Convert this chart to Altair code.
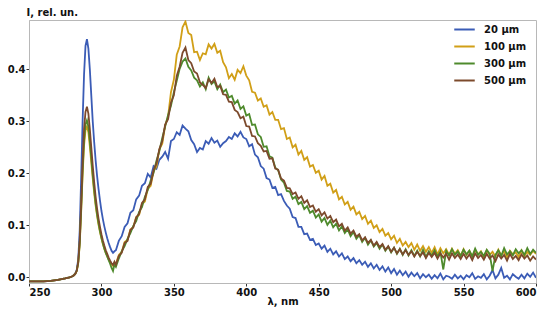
import altair as alt
import pandas as pd

# Sampling wavelengths (nm): fine around the narrow 290 nm band, then every 2 nm
WL_A = [250, 255, 260, 265, 270, 275, 278, 280, 281, 282, 283, 284, 285, 286, 287, 288, 289,
        290, 291, 292, 293, 294, 295, 296, 297, 298, 299, 300, 301, 302, 303, 304, 305, 306,
        307, 308, 309]
WL_B = list(range(310, 601, 2))
WAVELENGTH = WL_A + WL_B

SERIES = ["20 μm", "100 μm", "300 μm", "500 μm"]
COLORS = ["#3b5cb6", "#d19f17", "#4e8a2c", "#7c4a2c"]

# ---- 20 um (blue)
I20_A = [-0.008, -0.008, -0.008, -0.007, -0.005, -0.002, 0.000, 0.002, 0.004, 0.007, 0.015,
         0.035, 0.09, 0.19, 0.30, 0.39, 0.445, 0.458, 0.44, 0.40, 0.35, 0.30, 0.26, 0.225,
         0.195, 0.17, 0.148, 0.128, 0.112, 0.098, 0.086, 0.075, 0.066, 0.058, 0.051, 0.047, 0.05]
I20_B = [0.052, 0.070, 0.079, 0.097, 0.104, 0.124, 0.129, 0.150, 0.157, 0.176,
         0.181, 0.199, 0.192, 0.214, 0.209, 0.226, 0.232, 0.241, 0.228, 0.262,
         0.266, 0.279, 0.274, 0.292, 0.286, 0.281, 0.264, 0.256, 0.241, 0.249,
         0.246, 0.262, 0.257, 0.268, 0.259, 0.263, 0.251, 0.258, 0.262, 0.270,
         0.266, 0.277, 0.271, 0.280, 0.269, 0.266, 0.252, 0.256, 0.236, 0.231,
         0.214, 0.209, 0.191, 0.188, 0.172, 0.174, 0.158, 0.160, 0.147, 0.138,
         0.132, 0.116, 0.114, 0.097, 0.097, 0.083, 0.084, 0.072, 0.074, 0.062,
         0.065, 0.055, 0.061, 0.049, 0.055, 0.044, 0.050, 0.040, 0.046, 0.035,
         0.040, 0.031, 0.037, 0.027, 0.033, 0.024, 0.030, 0.020, 0.027, 0.017,
         0.024, 0.014, 0.021, 0.011, 0.019, 0.008, 0.016, 0.005, 0.013, 0.004,
         0.011, 0.001, 0.009, 0.002, 0.008, -0.002, 0.006, 0.000, 0.005, -0.003,
         0.004, -0.002, 0.007, -0.004, 0.003, 0.001, -0.003, 0.005, -0.002, 0.003,
         -0.004, 0.004, 0.000, 0.008, -0.003, 0.002, -0.001, 0.006, -0.004, 0.003,
         0.014, -0.002, 0.005, 0.018, -0.001, 0.003, -0.004, 0.006, 0.001, -0.003,
         0.005, -0.002, 0.007, 0.001, 0.009, -0.001]

# ---- 100 um (gold)
I100_A = [-0.008, -0.008, -0.008, -0.007, -0.005, -0.002, 0.000, 0.002, 0.004, 0.007, 0.012,
          0.027, 0.062, 0.125, 0.197, 0.253, 0.283, 0.29, 0.279, 0.252, 0.221, 0.19, 0.162,
          0.138, 0.118, 0.101, 0.087, 0.075, 0.064, 0.055, 0.047, 0.04, 0.034, 0.029, 0.025,
          0.022, 0.028]
I100_B = [0.026, 0.043, 0.049, 0.068, 0.072, 0.092, 0.097, 0.116, 0.120, 0.141,
          0.146, 0.170, 0.176, 0.204, 0.213, 0.246, 0.257, 0.292, 0.309, 0.356,
          0.380, 0.428, 0.444, 0.481, 0.492, 0.470, 0.466, 0.433, 0.434, 0.418,
          0.431, 0.429, 0.448, 0.440, 0.449, 0.432, 0.436, 0.414, 0.404, 0.383,
          0.391, 0.380, 0.399, 0.393, 0.406, 0.388, 0.379, 0.357, 0.355, 0.340,
          0.344, 0.328, 0.331, 0.313, 0.318, 0.303, 0.303, 0.285, 0.287, 0.266,
          0.269, 0.250, 0.255, 0.236, 0.243, 0.226, 0.231, 0.213, 0.216, 0.201,
          0.205, 0.188, 0.195, 0.176, 0.180, 0.163, 0.168, 0.150, 0.155, 0.140,
          0.145, 0.130, 0.136, 0.121, 0.126, 0.112, 0.118, 0.103, 0.109, 0.095,
          0.100, 0.087, 0.093, 0.080, 0.085, 0.073, 0.080, 0.066, 0.074, 0.061,
          0.068, 0.058, 0.066, 0.053, 0.063, 0.051, 0.060, 0.049, 0.058, 0.047,
          0.058, 0.044, 0.056, 0.046, 0.054, 0.043, 0.055, 0.045, 0.052, 0.041,
          0.054, 0.043, 0.051, 0.040, 0.053, 0.044, 0.050, 0.039, 0.052, 0.043,
          0.049, 0.040, 0.053, 0.042, 0.050, 0.038, 0.051, 0.044, 0.048, 0.039,
          0.052, 0.041, 0.049, 0.043, 0.051, 0.045]

# ---- 300 um (green)
I300_A = [-0.008, -0.008, -0.008, -0.007, -0.005, -0.002, 0.000, 0.002, 0.004, 0.007, 0.013,
          0.028, 0.065, 0.13, 0.205, 0.263, 0.294, 0.302, 0.29, 0.262, 0.23, 0.197, 0.168,
          0.142, 0.121, 0.104, 0.089, 0.076, 0.065, 0.055, 0.047, 0.04, 0.033, 0.026, 0.018,
          0.012, 0.025]
I300_B = [0.020, 0.036, 0.050, 0.060, 0.074, 0.085, 0.099, 0.108, 0.126, 0.135,
          0.155, 0.168, 0.186, 0.201, 0.224, 0.243, 0.268, 0.290, 0.312, 0.330,
          0.356, 0.378, 0.401, 0.415, 0.421, 0.405, 0.398, 0.384, 0.379, 0.367,
          0.375, 0.362, 0.384, 0.372, 0.377, 0.362, 0.371, 0.356, 0.361, 0.346,
          0.349, 0.334, 0.340, 0.324, 0.329, 0.311, 0.314, 0.293, 0.294, 0.275,
          0.270, 0.251, 0.252, 0.233, 0.230, 0.211, 0.206, 0.188, 0.182, 0.166,
          0.165, 0.151, 0.155, 0.141, 0.145, 0.131, 0.137, 0.124, 0.128, 0.115,
          0.121, 0.107, 0.114, 0.101, 0.109, 0.096, 0.103, 0.090, 0.098, 0.085,
          0.092, 0.079, 0.087, 0.074, 0.081, 0.068, 0.076, 0.063, 0.071, 0.059,
          0.066, 0.055, 0.063, 0.051, 0.059, 0.048, 0.057, 0.045, 0.055, 0.043,
          0.054, 0.042, 0.052, 0.041, 0.051, 0.040, 0.053, 0.039, 0.050, 0.041,
          0.052, 0.040, 0.049, 0.015, 0.051, 0.042, 0.054, 0.043, 0.050, 0.041,
          0.053, 0.044, 0.051, 0.040, 0.055, 0.043, 0.049, 0.041, 0.053, 0.045,
          0.012, 0.043, 0.052, 0.041, 0.056, 0.044, 0.050, 0.042, 0.054, 0.046,
          0.052, 0.043, 0.056, 0.045, 0.053, 0.047]

# ---- 500 um (brown)
I500_A = [-0.008, -0.008, -0.008, -0.007, -0.005, -0.002, 0.000, 0.002, 0.004, 0.007, 0.013,
          0.03, 0.07, 0.14, 0.22, 0.285, 0.318, 0.328, 0.315, 0.285, 0.25, 0.215, 0.183,
          0.155, 0.132, 0.113, 0.097, 0.083, 0.071, 0.061, 0.052, 0.045, 0.038, 0.032, 0.027,
          0.024, 0.03]
I500_B = [0.024, 0.041, 0.047, 0.066, 0.070, 0.091, 0.096, 0.115, 0.122, 0.143,
          0.150, 0.174, 0.180, 0.206, 0.219, 0.247, 0.262, 0.294, 0.304, 0.336,
          0.350, 0.388, 0.405, 0.432, 0.442, 0.418, 0.412, 0.396, 0.392, 0.375,
          0.370, 0.364, 0.381, 0.374, 0.382, 0.366, 0.368, 0.352, 0.351, 0.338,
          0.337, 0.322, 0.318, 0.306, 0.309, 0.291, 0.290, 0.272, 0.271, 0.258,
          0.253, 0.242, 0.243, 0.228, 0.229, 0.209, 0.207, 0.190, 0.186, 0.172,
          0.171, 0.160, 0.163, 0.151, 0.156, 0.143, 0.148, 0.135, 0.138, 0.126,
          0.131, 0.119, 0.125, 0.113, 0.118, 0.106, 0.111, 0.098, 0.103, 0.090,
          0.096, 0.084, 0.090, 0.078, 0.083, 0.071, 0.077, 0.066, 0.072, 0.061,
          0.068, 0.058, 0.064, 0.053, 0.060, 0.049, 0.057, 0.046, 0.054, 0.044,
          0.052, 0.043, 0.050, 0.040, 0.049, 0.041, 0.048, 0.037, 0.047, 0.039,
          0.047, 0.036, 0.046, 0.038, 0.045, 0.034, 0.046, 0.037, 0.044, 0.035,
          0.045, 0.036, 0.044, 0.033, 0.046, 0.037, 0.043, 0.034, 0.045, 0.036,
          0.042, 0.031, 0.044, 0.036, 0.043, 0.032, 0.045, 0.035, 0.041, 0.033,
          0.044, 0.036, 0.042, 0.032, 0.040, 0.034]

X_TICKS = [250, 300, 350, 400, 450, 500, 550, 600]
Y_TICKS = [0.0, 0.1, 0.2, 0.3, 0.4]

values = [I20_A + I20_B, I100_A + I100_B, I300_A + I300_B, I500_A + I500_B]
rows = []
for order, (name, vals) in enumerate(zip(SERIES, values)):
    n = min(len(vals), len(WAVELENGTH))
    for i in range(n):
        rows.append({"wl": WAVELENGTH[i], "I": vals[i], "series": name, "k": order})
df = pd.DataFrame(rows)

FONT = "DejaVu Sans"

chart = alt.Chart(df).mark_line(strokeWidth=1.8, clip=True).encode(
    x=alt.X("wl:Q",
            scale=alt.Scale(domain=[250, 600], nice=False, zero=False),
            axis=alt.Axis(values=X_TICKS, format="d", title="λ, nm",
                          titlePadding=-1)),
    y=alt.Y("I:Q",
            scale=alt.Scale(domain=[-0.011, 0.495], nice=False, zero=False),
            axis=alt.Axis(values=Y_TICKS, format=".1f", title="I, rel. un.",
                          titleAngle=0, titleAlign="left", titleBaseline="bottom",
                          titleX=-3, titleY=-3)),
    color=alt.Color("series:N",
                    scale=alt.Scale(domain=SERIES, range=COLORS),
                    legend=alt.Legend(title=None, orient="none", legendX=424, legendY=-2,
                                      symbolType="stroke", symbolSize=420,
                                      symbolStrokeWidth=2, labelOffset=8,
                                      rowPadding=-4)),
    detail="series:N",
    order="k:Q",
).properties(
    width=507, height=263,
    padding={"left": 21, "top": 12, "right": 6, "bottom": 25},
    autosize=alt.AutoSizeParams(type="none"),
).configure_view(
    stroke="#b8b8b8", strokeWidth=1
).configure_axis(
    grid=False, domainColor="#b8b8b8", tickColor="#333333", tickSize=3,
    labelFont=FONT, labelFontSize=10, labelFontWeight="bold", labelColor="#111111",
    titleFont=FONT, titleFontSize=10, titleFontWeight="bold", titleColor="#111111",
    labelPadding=1,
).configure_legend(
    labelFont=FONT, labelFontSize=10, labelFontWeight="bold", labelColor="#111111",
)

chart.save("out.html", embed_options={"renderer": "svg", "actions": False})
